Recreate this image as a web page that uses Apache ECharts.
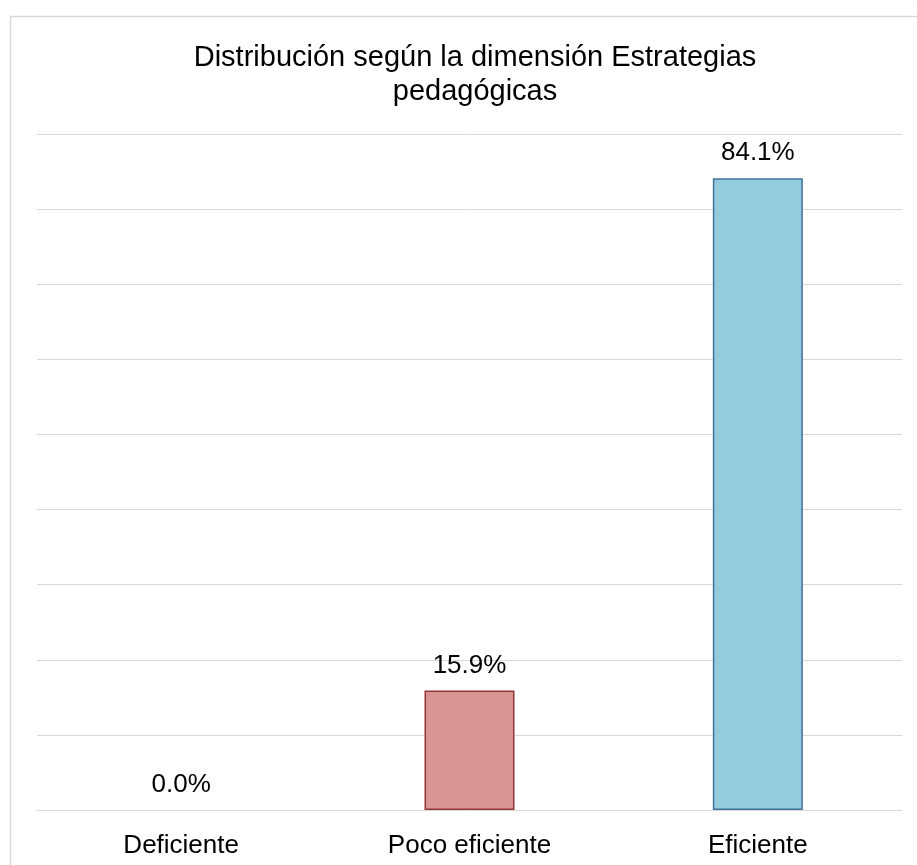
<!DOCTYPE html>
<html>
<head>
<meta charset="utf-8">
<script src="https://cdn.jsdelivr.net/npm/echarts@6/dist/echarts.min.js"></script>
<style>
  html, body { margin: 0; padding: 0; background: #fff; }
  #chart { width: 917px; height: 865px; }
</style>
</head>
<body>
<div id="chart"></div>
<script>
// Categories and percentage values for the bar chart
const categories = ['Deficiente', 'Poco eficiente', 'Eficiente'];
const percentages = [0.0, 15.9, 84.1];
const fillColors = ['#d99594', '#d99594', '#93cddd'];
const borderColors = ['#943634', '#943634', '#41719c'];

const FONT = 'Liberation Sans, Arial, sans-serif';

const chart = echarts.init(document.getElementById('chart'), null, { renderer: 'canvas' });

const option = {
  backgroundColor: '#ffffff',
  animation: false,
  title: {
    text: 'Distribución según la dimensión Estrategias\npedagógicas',
    left: 470,
    textAlign: 'center',
    top: 36,
    textStyle: {
      fontFamily: FONT,
      fontSize: 29,
      fontWeight: 'normal',
      color: '#000',
      lineHeight: 34
    }
  },
  graphic: [{
    type: 'rect',
    left: 8,
    top: 14,
    shape: { width: 930, height: 870 },
    style: { fill: 'none', stroke: '#d9d9d9', lineWidth: 1.5 },
    silent: true
  }],
  grid: { left: 37, right: 15, top: 134, bottom: 55 },
  xAxis: {
    type: 'category',
    data: categories,
    axisLine: { show: true, lineStyle: { color: '#d9d9d9', width: 1 } },
    axisTick: { show: false },
    axisLabel: {
      fontFamily: FONT,
      fontSize: 26,
      color: '#000',
      margin: 23
    }
  },
  yAxis: {
    type: 'value',
    min: 0,
    max: 90,
    interval: 10,
    axisLabel: { show: false },
    axisLine: { show: false },
    axisTick: { show: false },
    splitLine: { lineStyle: { color: '#d9d9d9', width: 1 } }
  },
  series: [{
    type: 'bar',
    barWidth: 90,
    data: percentages.map((v, i) => ({
      value: v,
      itemStyle: { color: fillColors[i], borderColor: borderColors[i], borderWidth: v > 0 ? 1.5 : 0 }
    })),
    label: {
      show: true,
      position: 'top',
      distance: 12,
      fontFamily: FONT,
      fontSize: 26,
      color: '#000',
      formatter: p => p.value.toFixed(1) + '%'
    }
  }]
};

chart.setOption(option);
</script>
</body>
</html>
